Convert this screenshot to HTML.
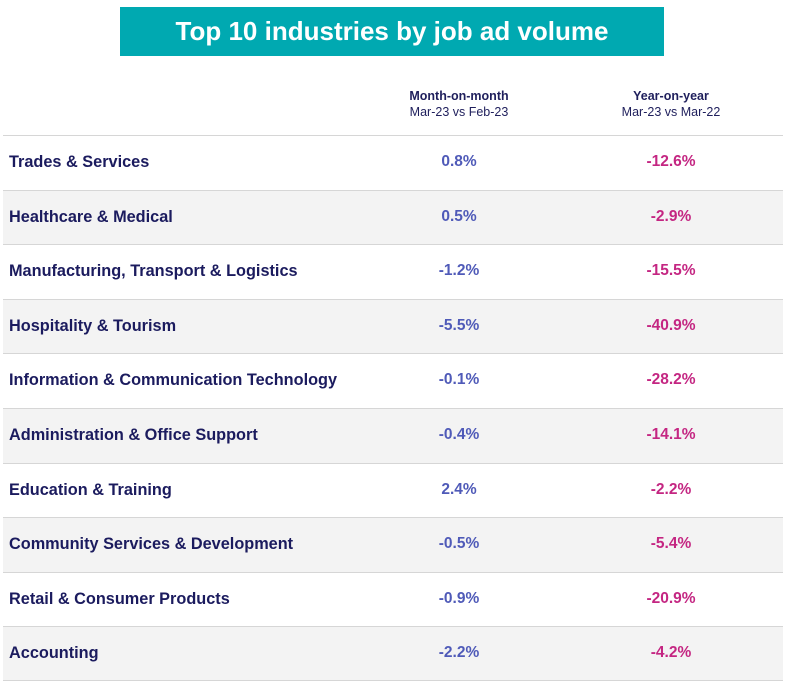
<!DOCTYPE html>
<html><head><meta charset="utf-8"><style>
body{margin:0;width:788px;height:693px;background:#fff;font-family:"Liberation Sans",sans-serif;position:relative;overflow:hidden}
#banner{position:absolute;left:120px;top:7px;width:544px;height:49px;background:#00A9B1;color:#fff;font-weight:bold;font-size:26px;text-align:center;line-height:49px}
.h{position:absolute;text-align:center;width:200px;font-size:12.5px;color:#1f1f5c;line-height:16px}
.h b{display:block}
#rows{position:absolute;left:3px;top:135px;width:780px}
.row{height:54.6px;border-top:1.5px solid #d6d6d6;box-sizing:border-box;position:relative;color:#1b1b5e}
.row:nth-child(even){background:#f3f3f3}
.row:last-child{border-bottom:1.5px solid #d6d6d6}
.lab{position:absolute;left:6px;top:17px;font-weight:bold;font-size:16.3px}
.v{position:absolute;width:120px;text-align:center;top:17px;font-size:15.5px;font-weight:bold}
.m{left:396px;color:#4f5ab8}.y{left:608px;color:#c42682}
</style></head><body>
<div id="banner">Top 10 industries by job ad volume</div>
<div class="h" style="left:359px;top:88px"><b>Month-on-month</b>Mar-23 vs Feb-23</div>
<div class="h" style="left:571px;top:88px"><b>Year-on-year</b>Mar-23 vs Mar-22</div>
<div id="rows"></div>
<script>
const industries=["Trades & Services","Healthcare & Medical","Manufacturing, Transport & Logistics","Hospitality & Tourism","Information & Communication Technology","Administration & Office Support","Education & Training","Community Services & Development","Retail & Consumer Products","Accounting"];
const mom=[0.8,0.5,-1.2,-5.5,-0.1,-0.4,2.4,-0.5,-0.9,-2.2];
const yoy=[-12.6,-2.9,-15.5,-40.9,-28.2,-14.1,-2.2,-5.4,-20.9,-4.2];
const c=document.getElementById('rows');
industries.forEach((n,i)=>{
 const r=document.createElement('div');r.className='row';
 
 
 const l=document.createElement('div');l.className='lab';l.textContent=n;
 
 
 const a=document.createElement('div');a.className='v m';a.textContent=mom[i].toFixed(1)+'%';
 
 
 const b=document.createElement('div');b.className='v y';b.textContent=yoy[i].toFixed(1)+'%';
 
 
 r.append(l,a,b);c.appendChild(r);
});
</script>
</body></html>
